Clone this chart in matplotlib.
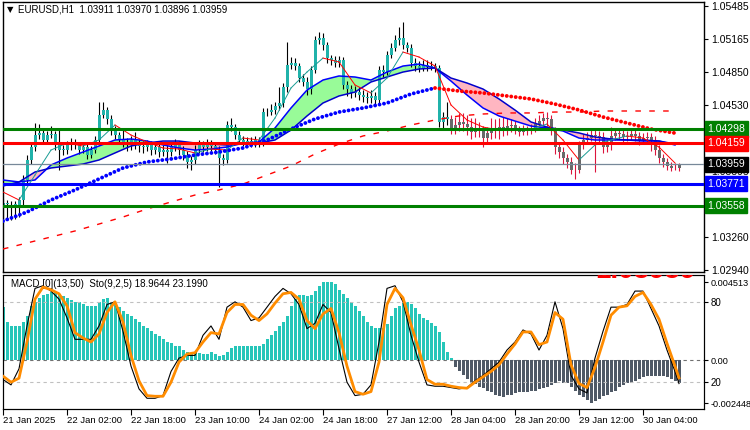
import numpy as np
import matplotlib
matplotlib.use("Agg")
import matplotlib.pyplot as plt
import matplotlib.transforms as mtrans

plt.rcParams['font.family'] = ['Liberation Sans', 'DejaVu Sans']
plt.rcParams['font.size'] = 7.5

# ---- price data, H1 bars ----
first_open = 1.0356
closes = [
    1.0358, 1.0357, 1.0357, 1.0356, 1.0361, 1.0381, 1.0400, 1.0412, 1.0424, 1.0426,
    1.0419, 1.0424, 1.0425, 1.0414, 1.0410, 1.0410, 1.0414, 1.0417, 1.0414, 1.0410,
    1.0412, 1.0405, 1.0410, 1.0419, 1.0443, 1.0448, 1.0439, 1.0429, 1.0424, 1.0419,
    1.0417, 1.0414, 1.0419, 1.0416, 1.0413, 1.0412, 1.0414, 1.0410, 1.0412, 1.0408,
    1.0410, 1.0408, 1.0412, 1.0414, 1.0410, 1.0405, 1.0398, 1.0400, 1.0410, 1.0414,
    1.0412, 1.0416, 1.0413, 1.0410, 1.0402, 1.0400, 1.0434, 1.0432, 1.0424, 1.0419,
    1.0417, 1.0418, 1.0416, 1.0419, 1.0416, 1.0446, 1.0446, 1.0448, 1.0452, 1.0455,
    1.0470, 1.0492, 1.0494, 1.0491, 1.0479, 1.0475, 1.0468, 1.0487, 1.0516, 1.0518,
    1.0511, 1.0498, 1.0496, 1.0494, 1.0496, 1.0472, 1.0468, 1.0465, 1.0466, 1.0463,
    1.0461, 1.0460, 1.0462, 1.0458, 1.0487, 1.0485, 1.0501, 1.0508, 1.0516, 1.0518,
    1.0511, 1.0508, 1.0494, 1.0491, 1.0489, 1.0492, 1.0490, 1.0491, 1.0489, 1.0437,
    1.0441, 1.0439, 1.0431, 1.0434, 1.0437, 1.0435, 1.0432, 1.0427, 1.0431, 1.0429,
    1.0421, 1.0426, 1.0431, 1.0429, 1.0432, 1.0429, 1.0433, 1.0434, 1.0429, 1.0427,
    1.0429, 1.0428, 1.0430, 1.0435, 1.0438, 1.0440, 1.0439, 1.0429, 1.0412, 1.0408,
    1.0402, 1.0398, 1.0390, 1.0390, 1.0414, 1.0419, 1.0421, 1.0424, 1.0423, 1.0422,
    1.0412, 1.0414, 1.0423, 1.0426, 1.0425, 1.0422, 1.0423, 1.0425, 1.0423, 1.0419,
    1.0421, 1.0422, 1.0419, 1.0410, 1.0402, 1.0398, 1.0394, 1.0392, 1.0392, 1.03959,
]
highs = [
    1.0362, 1.0361, 1.0360, 1.0360, 1.0364, 1.0385, 1.0405, 1.0416, 1.0436, 1.0435,
    1.0429, 1.0428, 1.0433, 1.0428, 1.0429, 1.0414, 1.0418, 1.0421, 1.0420, 1.0417,
    1.0416, 1.0415, 1.0413, 1.0423, 1.0456, 1.0456, 1.0451, 1.0443, 1.0433, 1.0427,
    1.0429, 1.0421, 1.0423, 1.0427, 1.0420, 1.0418, 1.0419, 1.0418, 1.0416, 1.0416,
    1.0414, 1.0414, 1.0416, 1.0420, 1.0418, 1.0413, 1.0409, 1.0404, 1.0414, 1.0419,
    1.0418, 1.0420, 1.0419, 1.0416, 1.0413, 1.0406, 1.0438, 1.0440, 1.0435, 1.0428,
    1.0423, 1.0422, 1.0422, 1.0423, 1.0422, 1.0450, 1.0450, 1.0454, 1.0456, 1.0470,
    1.0474, 1.0514, 1.0499, 1.0498, 1.0494, 1.0483, 1.0480, 1.0491, 1.0520, 1.0523,
    1.0522, 1.0514, 1.0501, 1.0500, 1.0500, 1.0499, 1.0476, 1.0472, 1.0471, 1.0470,
    1.0467, 1.0466, 1.0467, 1.0466, 1.0491, 1.0492, 1.0505, 1.0513, 1.0521, 1.0528,
    1.0533, 1.0514, 1.0512, 1.0498, 1.0495, 1.0496, 1.0496, 1.0495, 1.0494, 1.0492,
    1.0446, 1.0456, 1.0443, 1.0441, 1.0445, 1.0445, 1.0443, 1.0440, 1.0440, 1.0437,
    1.0433, 1.0432, 1.0440, 1.0439, 1.0440, 1.0441, 1.0440, 1.0439, 1.0438, 1.0433,
    1.0434, 1.0433, 1.0435, 1.0440, 1.0443, 1.0445, 1.0446, 1.0443, 1.0432, 1.0416,
    1.0412, 1.0406, 1.0403, 1.0397, 1.0418, 1.0425, 1.0427, 1.0431, 1.0430, 1.0428,
    1.0427, 1.0420, 1.0432, 1.0431, 1.0430, 1.0429, 1.0428, 1.0430, 1.0429, 1.0427,
    1.0426, 1.0427, 1.0426, 1.0423, 1.0414, 1.0406, 1.0402, 1.0398, 1.0397, 1.03970,
]
lows = [
    1.0343, 1.0342, 1.0342, 1.0343, 1.0345, 1.0355, 1.0376, 1.0396, 1.0409, 1.0420,
    1.0415, 1.0416, 1.0421, 1.0410, 1.0390, 1.0405, 1.0406, 1.0410, 1.0411, 1.0406,
    1.0407, 1.0401, 1.0402, 1.0407, 1.0416, 1.0440, 1.0435, 1.0424, 1.0420, 1.0415,
    1.0412, 1.0409, 1.0410, 1.0411, 1.0408, 1.0407, 1.0409, 1.0405, 1.0406, 1.0403,
    1.0404, 1.0397, 1.0404, 1.0409, 1.0405, 1.0400, 1.0392, 1.0390, 1.0396, 1.0407,
    1.0408, 1.0409, 1.0409, 1.0406, 1.0374, 1.0395, 1.0397, 1.0428, 1.0420, 1.0415,
    1.0413, 1.0414, 1.0412, 1.0412, 1.0412, 1.0413, 1.0442, 1.0443, 1.0444, 1.0448,
    1.0451, 1.0466, 1.0488, 1.0487, 1.0475, 1.0471, 1.0463, 1.0464, 1.0484, 1.0512,
    1.0506, 1.0494, 1.0492, 1.0490, 1.0490, 1.0468, 1.0462, 1.0460, 1.0461, 1.0458,
    1.0456, 1.0455, 1.0455, 1.0452, 1.0455, 1.0480, 1.0482, 1.0498, 1.0505, 1.0511,
    1.0507, 1.0504, 1.0490, 1.0486, 1.0485, 1.0486, 1.0486, 1.0487, 1.0485, 1.0432,
    1.0429, 1.0434, 1.0425, 1.0425, 1.0428, 1.0428, 1.0424, 1.0420, 1.0422, 1.0422,
    1.0412, 1.0416, 1.0420, 1.0421, 1.0420, 1.0423, 1.0424, 1.0427, 1.0425, 1.0423,
    1.0424, 1.0424, 1.0425, 1.0427, 1.0432, 1.0434, 1.0433, 1.0424, 1.0406, 1.0402,
    1.0396, 1.0392, 1.0386, 1.0382, 1.0387, 1.0411, 1.0415, 1.0418, 1.0388, 1.0417,
    1.0407, 1.0408, 1.0410, 1.0419, 1.0420, 1.0417, 1.0418, 1.0419, 1.0418, 1.0414,
    1.0415, 1.0416, 1.0409, 1.0405, 1.0397, 1.0393, 1.0390, 1.0389, 1.0390, 1.03896,
]
gray_from = 112          # bars from here on are drawn in the bearish-trend colours

# ---- moving averages (every 4th / 6th bar) ----
ribbon_fast = [
    1.03806, 1.03787, 1.03806, 1.03951, 1.04018, 1.04076, 1.04134, 1.04192, 1.04202, 1.04182,
    1.04144, 1.04115, 1.04095, 1.04105, 1.04124, 1.04163, 1.04173, 1.04308, 1.04501, 1.04674,
    1.04771, 1.04810, 1.04800, 1.04771, 1.04848, 1.04906, 1.04925, 1.04887, 1.04761, 1.04626,
    1.04501, 1.04424, 1.04375, 1.04327, 1.04308, 1.04279, 1.04211, 1.04192, 1.04192, 1.04192,
    1.04182, 1.04182, 1.04144,
]
ribbon_slow = [
    1.03748, 1.03787, 1.03883, 1.03922, 1.03941, 1.03960, 1.03999, 1.04067, 1.04134, 1.04163,
    1.04182, 1.04182, 1.04163, 1.04153, 1.04144, 1.04153, 1.04163, 1.04192, 1.04288, 1.04424,
    1.04549, 1.04617, 1.04655, 1.04752, 1.04800, 1.04848, 1.04877, 1.04887, 1.04790, 1.04742,
    1.04684, 1.04588, 1.04481, 1.04366, 1.04317, 1.04288, 1.04260, 1.04221, 1.04202, 1.04192,
    1.04192, 1.04182, 1.04153,
]
ma_fast = [
    1.03690, 1.03613, 1.03854, 1.04095, 1.04163, 1.04134, 1.04192, 1.04337, 1.04240, 1.04173,
    1.04115, 1.04105, 1.04067, 1.04105, 1.04095, 1.04211, 1.04192, 1.04404, 1.04694, 1.04848,
    1.04983, 1.04945, 1.04723, 1.04646, 1.04790, 1.05041, 1.04993, 1.04906, 1.04530, 1.04385,
    1.04317, 1.04288, 1.04298, 1.04298, 1.04346, 1.04192, 1.03999, 1.04144, 1.04192, 1.04231,
    1.04211, 1.04124, 1.03970,
]
ma_mid = [
    1.03410, 1.03497, 1.03613, 1.03710, 1.03816, 1.03922, 1.03980, 1.04009, 1.04047, 1.04076,
    1.04115, 1.04192, 1.04298, 1.04395, 1.04462, 1.04501, 1.04549, 1.04636, 1.04694, 1.04665,
    1.04646, 1.04617, 1.04588, 1.04539, 1.04482, 1.04414, 1.04356, 1.04298, 1.04259,
]
ma_long = [
    1.03140, 1.03198, 1.03256, 1.03314, 1.03381, 1.03449, 1.03526, 1.03594, 1.03661, 1.03710,
    1.03767, 1.03854, 1.03941, 1.04057, 1.04153, 1.04231, 1.04279, 1.04337, 1.04385, 1.04424,
    1.04443, 1.04453, 1.04453, 1.04462, 1.04462, 1.04472, 1.04472, 1.04472, 1.04472,
]

# ---- levels ----
levels = [1.04298, 1.04159, 1.03771, 1.03558]
level_colors = ['#008000', '#ff0000', '#0000ff', '#008000']
last_price = 1.03959
price_ticks = [1.05485, 1.05165, 1.04850, 1.04530, 1.04210, 1.03895, 1.03575, 1.03260, 1.02940]

# ---- MACD histogram (x1e-4) and stochastic ----
macd_hist = [
    30.5, 22.4, 20.1, 19.6, 20.1, 21.9, 25.3, 31.1, 33.9, 36.2,
    37.4, 38.5, 39.1, 39.1, 38.0, 36.8, 35.7, 34.5, 33.9, 33.4,
    32.2, 31.1, 31.1, 31.6, 33.4, 35.1, 35.7, 33.9, 32.2, 30.5,
    28.2, 26.5, 25.3, 23.6, 21.9, 20.1, 18.4, 16.7, 15.0, 13.8,
    12.1, 10.9, 9.8, 8.6, 8.1, 6.3, 4.6, 4.0, 4.6, 4.0,
    3.5, 3.5, 4.6, 3.5, 2.3, 2.9, 4.6, 6.9, 8.1, 8.1,
    8.1, 8.1, 8.1, 8.6, 8.1, 9.2, 12.1, 14.4, 16.7, 19.6,
    21.9, 25.3, 31.1, 35.1, 37.4, 37.4, 36.8, 37.4, 39.7, 42.6,
    44.9, 44.9, 44.9, 43.7, 40.8, 38.5, 36.2, 33.4, 31.1, 28.2,
    25.3, 22.4, 20.1, 18.4, 18.4, 18.4, 20.7, 25.3, 29.9, 31.6,
    32.8, 33.4, 32.2, 29.9, 27.0, 24.2, 23.0, 21.3, 19.6, 16.1,
    10.4, 4.6, 1.2, -3.5, -6.3, -8.6, -10.4, -12.7, -13.8, -15.0,
    -16.1, -17.3, -18.4, -19.6, -20.7, -21.3, -20.1, -19.6, -19.0, -18.4,
    -18.4, -18.4, -17.8, -17.3, -16.7, -16.1, -15.5, -14.4, -12.7, -12.1,
    -12.7, -13.2, -15.0, -17.3, -19.6, -21.3, -23.0, -24.2, -23.6, -22.4,
    -20.7, -19.6, -18.4, -17.3, -15.5, -14.4, -13.2, -12.7, -12.1, -10.9,
    -9.8, -9.2, -9.2, -9.2, -9.2, -9.2, -9.8, -10.9, -12.1, -12.7,
]
sto_main = [
    22, 18, 30, 62, 90, 92, 88, 82, 68, 52, 52, 52, 62, 78, 80, 58, 32, 15, 8, 8,
    10, 28, 38, 40, 40, 55, 62, 52, 76, 80, 76, 66, 68, 76, 84, 90, 86, 78, 60, 64,
    78, 72, 45, 20, 10, 11, 18, 50, 90, 92, 80, 55, 35, 18, 17, 17, 16, 15, 16, 21,
    25, 30, 35, 44, 50, 59, 56, 44, 55, 80, 60, 25, 15, 12, 38, 58, 76, 76, 78, 88,
    88, 75, 62, 44, 28, 18.9644,
]
sto_signal = [
    24.5, 20, 23, 50, 82, 91, 89, 86, 77, 57, 53, 50, 56, 72, 80, 65, 40, 21, 10, 9.5,
    9.5, 20, 35, 41, 42, 50, 57, 56, 72, 78, 78, 70, 66, 71, 79, 86, 87, 82, 66, 60,
    71, 75, 57, 32, 13, 11, 13, 35, 78, 90, 83, 63, 44, 22, 18.5, 18.5, 17, 16, 15.5, 20,
    24, 28, 33, 41, 48.5, 57.5, 57.5, 48, 50, 72, 67, 33, 19, 16, 31, 50, 70, 76, 77, 84,
    87, 78, 67, 49, 32, 23.199,
]

time_labels = ['21 Jan 2025', '22 Jan 02:00', '22 Jan 18:00', '23 Jan 10:00', '24 Jan 02:00',
               '24 Jan 18:00', '27 Jan 12:00', '28 Jan 04:00', '28 Jan 20:00', '29 Jan 12:00',
               '30 Jan 04:00']

# ---------------------------------------------------------------------------
closes = np.array(closes)
highs = np.array(highs)
lows = np.array(lows)
opens = np.r_[first_open, closes[:-1]]
n = len(closes)
x = np.arange(n)
idx4 = np.arange(0, n, 4)
idx6 = np.arange(0, n, 6)
sto_idx = np.r_[np.arange(0, n, 2), n - 1]

W, H = 750, 430
fig = plt.figure(figsize=(7.5, 4.3), dpi=100)
ax = fig.add_axes([3 / W, (H - 272) / H, 701 / W, 270 / H])
axm = fig.add_axes([3 / W, (H - 409) / H, 701 / W, 134 / H])

xlim = (0, 701 / 4)

# main chart -----------------------------------------------------------------
rf = np.array(ribbon_fast)
rs = np.array(ribbon_slow)
ax.fill_between(idx4, rf, rs, where=rf >= rs, interpolate=True, color='#98fb98', lw=0, zorder=1)
ax.fill_between(idx4, rf, rs, where=rf < rs, interpolate=True, color='#ffb6c1', lw=0, zorder=1)

teal = np.arange(n) < gray_from
body_lo = np.minimum(opens, closes)
body_h = np.maximum(np.abs(closes - opens), 0.00004)
ax.vlines(x[teal], lows[teal], highs[teal], color='black', lw=0.8, zorder=2)
ax.vlines(x[~teal], lows[~teal], highs[~teal], color='#dc143c', lw=0.8, zorder=2)
ax.bar(x[teal], body_h[teal], bottom=body_lo[teal], width=0.75, color='#20b2aa', lw=0, zorder=2.1)
ax.bar(x[~teal], body_h[~teal], bottom=body_lo[~teal], width=0.75, color='#696969', lw=0, zorder=2.1)

ax.plot(idx4, rf, color='#0000ff', lw=1.1, zorder=3)
ax.plot(idx4, rs, color='#0000cc', lw=1.1, zorder=3)

mf = np.array(ma_fast)
for k in range(len(mf) - 1):
    c = '#199c94' if mf[k + 1] >= mf[k] else '#ff0000'
    ax.plot(idx4[k:k + 2], mf[k:k + 2], color=c, lw=0.7, zorder=3)

mm = np.array(ma_mid)
peak = int(np.argmax(mm))
ax.plot(idx6[:peak + 1], mm[:peak + 1], color='#0000ff', lw=2.8, ls=(0, (0.01, 1.15)),
        dash_capstyle='round', zorder=3)
ax.plot(idx6[peak:], mm[peak:], color='#ff0000', lw=2.8, ls=(0, (0.01, 1.15)),
        dash_capstyle='round', zorder=3)
ax.plot(idx6, ma_long, color='#ff0000', lw=1.0, ls=(0, (4, 6)), zorder=3)

for lv, col in zip(levels, level_colors):
    ax.axhline(lv, color=col, lw=2.2, zorder=4)
ax.axhline(last_price, color='#778899', lw=0.9, zorder=4)

ax.set_xlim(*xlim)
ax.set_ylim(1.02918, 1.05524)
ax.set_xticks([])
ax.yaxis.tick_right()
ax.set_yticks(price_ticks)
ax.set_yticklabels([f'{t:.5f}' for t in price_ticks])
ax.tick_params(axis='y', direction='out', length=3, width=0.8, pad=2, labelsize=7.5)
for s in ax.spines.values():
    s.set_linewidth(1.0)

tr = mtrans.blended_transform_factory(ax.transAxes, ax.transData)
for lv, col in list(zip(levels, level_colors)) + [(last_price, '#000000')]:
    ax.text(1.0045, lv, f'{lv:.5f}', transform=tr, ha='left', va='center', color='white',
            fontsize=7.5, clip_on=False, zorder=10,
            bbox=dict(boxstyle='square,pad=0.25', fc=col, ec=col))

fig.text(7 / W, 1 - 10 / H, '\u25bc', fontsize=6, va='center', ha='left',
         family='DejaVu Sans')
fig.text(18 / W, 1 - 10 / H, 'EURUSD,H1  1.03911 1.03970 1.03896 1.03959',
         fontsize=7, va='center', ha='left')

# sub window -----------------------------------------------------------------
mh = np.array(macd_hist) * 1e-4
axm.bar(x[mh >= 0], mh[mh >= 0], width=0.75, color='#26c6b9', lw=0, zorder=1)
axm.bar(x[mh < 0], mh[mh < 0], width=0.75, color='#4f5966', lw=0, zorder=1)
axm.axhline(0, color='#707070', lw=0.8, ls=(0, (3, 3)), zorder=0.5)
axm.set_xlim(*xlim)
axm.set_ylim(-0.002793, 0.004916)

axs = axm.twinx()
axs.set_ylim(0, 100)
axs.set_xlim(*xlim)
axs.axhline(80, color='#c0c0c0', lw=0.8, ls=(0, (3, 3)), zorder=0.5)
axs.axhline(20, color='#c0c0c0', lw=0.8, ls=(0, (3, 3)), zorder=0.5)
axs.plot(sto_idx, sto_main, color='black', lw=0.8, zorder=2)
axs.plot(sto_idx, sto_signal, color='#ff8c00', lw=2.0, zorder=3)
axs.set_yticks([80, 20])
axs.set_yticklabels(['80', '20'])
axs.tick_params(axis='y', direction='out', length=3, width=0.8, pad=2, labelsize=7)

# twinx moves the first axis to the left, so put it back on the right
axm.yaxis.tick_right()
axm.set_yticks([0.004513, 0.0, -0.002448])
axm.set_yticklabels(['0.004513', '0.00', '-0.002448'])
axm.tick_params(axis='y', direction='out', length=3, width=0.8, pad=1.5, labelsize=6.6)

axm.set_xticks(np.arange(0, 161, 16))
axm.set_xticklabels(time_labels)
for lbl in axm.get_xticklabels():
    lbl.set_ha('left')
axm.tick_params(axis='x', direction='out', length=4, width=0.8, pad=1, labelsize=6.8)

axm.text(8 / 701, 0.935, 'MACD [0](13,50)  Sto(9,2,5) 18.9644 23.1990', transform=axm.transAxes,
         fontsize=7, va='center', ha='left', zorder=5)
big = axs.text(592 / 701, 0.975, '1.03959', transform=axs.transAxes, color='#ff0000',
               fontsize=20, fontweight='bold', va='baseline', ha='left', zorder=6)
big.set_clip_on(True)
big.set_clip_box(axs.bbox)

fig.savefig('out.png', dpi=100, facecolor='white')
